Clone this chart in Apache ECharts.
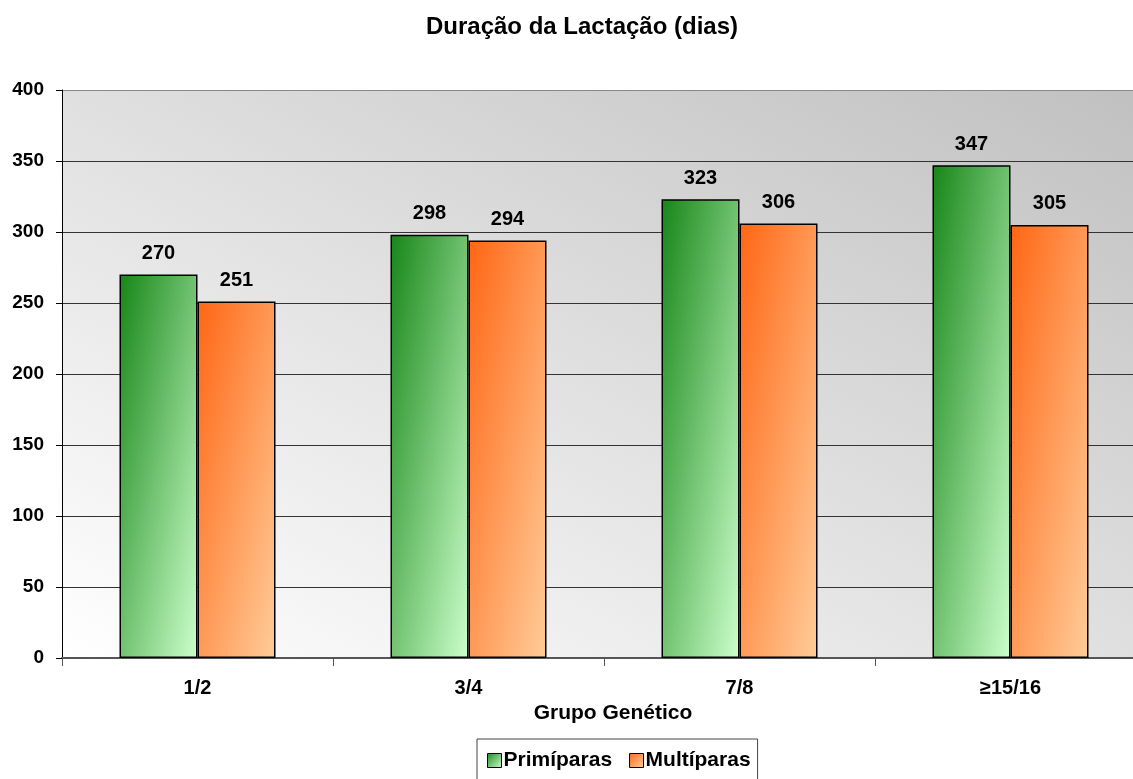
<!DOCTYPE html>
<html>
<head>
<meta charset="utf-8">
<title>Duração da Lactação</title>
<script src="https://cdn.jsdelivr.net/npm/echarts@6/dist/echarts.min.js"></script>
<style>
  html, body { margin: 0; padding: 0; background: #fff; }
  #chart { width: 1133px; height: 779px; }
</style>
</head>
<body>
<div id="chart"></div>
<script>
// Lactation length (days) by genetic group
const categories = ['1/2', '3/4', '7/8', '≥15/16'];
const primiparas = [270, 298, 323, 347];
const multiparas = [251, 294, 306, 305];
const yTicks = [0, 50, 100, 150, 200, 250, 300, 350, 400];

const FONT = 'Arial, "Liberation Sans", sans-serif';
const GRID = { left: 62, top: 90, width: 1084, height: 568 };
const BAR_W = 78;

// Diagonal shading whose bands run corner to corner, for a box of w x h pixels
function diagGradient(w, h, c0, c1, fromBottom) {
  const d = h * h + w * w;
  const gx = 2 * h * h / d, gy = 2 * w * w / d;
  return fromBottom
    ? { type: 'linear', x: 0, y: 1, x2: gx, y2: 1 - gy,
        colorStops: [{ offset: 0, color: c0 }, { offset: 1, color: c1 }] }
    : { type: 'linear', x: 0, y: 0, x2: gx, y2: gy,
        colorStops: [{ offset: 0, color: c0 }, { offset: 1, color: c1 }] };
}

function barColor(c0, c1) {
  return function (p) {
    const h = Math.max(1, p.value / yTicks[yTicks.length - 1] * GRID.height);
    return diagGradient(BAR_W, h, c0, c1, false);
  };
}

const labelStyle = {
  show: true, position: 'top', distance: 11,
  color: '#000', fontFamily: FONT, fontWeight: 'bold', fontSize: 20
};

const chart = echarts.init(document.getElementById('chart'), null, { renderer: 'canvas' });
chart.setOption({
  animation: false,
  backgroundColor: '#fff',
  title: {
    text: 'Duração da Lactação (dias)',
    left: 577, top: 10, textAlign: 'center',
    textStyle: { fontFamily: FONT, fontWeight: 'bold', fontSize: 24, color: '#000' }
  },
  grid: {
    left: GRID.left, top: GRID.top, width: GRID.width, height: GRID.height,
    outerBoundsMode: 'none',
    show: true, borderWidth: 0,
    backgroundColor: diagGradient(GRID.width, GRID.height, '#ffffff', '#c0c0c0', true)
  },
  legend: {
    top: 739, left: 477,
    padding: [11, 7, 20, 10],
    borderColor: '#444', borderWidth: 1,
    itemWidth: 14, itemHeight: 14, itemGap: 17,
    icon: 'rect',
    textStyle: { fontFamily: FONT, fontWeight: 'bold', fontSize: 21, color: '#000', padding: [0, 0, 0, -3] },
    data: [
      { name: 'Primíparas', itemStyle: { color: { type: 'linear', x: 0, y: 0, x2: 1, y2: 1,
        colorStops: [{ offset: 0, color: '#1f8a1f' }, { offset: 1, color: '#ccffcc' }] }, borderColor: '#000', borderWidth: 1 } },
      { name: 'Multíparas', itemStyle: { color: { type: 'linear', x: 0, y: 0, x2: 1, y2: 1,
        colorStops: [{ offset: 0, color: '#ff6a1a' }, { offset: 1, color: '#ffcc99' }] }, borderColor: '#000', borderWidth: 1 } }
    ]
  },
  xAxis: {
    type: 'category',
    data: categories,
    name: 'Grupo Genético',
    nameLocation: 'middle',
    nameGap: 44,
    nameTextStyle: { fontFamily: FONT, fontWeight: 'bold', fontSize: 21, color: '#000', padding: [0, 0, 0, 18] },
    axisLine: { lineStyle: { color: '#555', width: 2 } },
    axisTick: { show: true, length: 8, lineStyle: { color: '#555', width: 1 } },
    axisLabel: { margin: 20, fontFamily: FONT, fontWeight: 'bold', fontSize: 20, color: '#000' },
    splitLine: { show: false }
  },
  yAxis: {
    type: 'value',
    min: yTicks[0], max: yTicks[yTicks.length - 1], interval: yTicks[1] - yTicks[0],
    axisLine: { show: true, lineStyle: { color: '#000', width: 1 } },
    axisTick: { show: true, length: 6, lineStyle: { color: '#000' } },
    axisLabel: { margin: 18, fontFamily: FONT, fontWeight: 'bold', fontSize: 19, color: '#000' },
    splitLine: { show: true, lineStyle: {
      color: ['#333', '#333', '#333', '#333', '#333', '#333', '#333', '#333', '#888'], width: 1 } }
  },
  series: [
    {
      name: 'Primíparas', type: 'bar', data: primiparas,
      barWidth: BAR_W, barGap: '0%',
      itemStyle: { color: barColor('#178617', '#ccffcc'), borderColor: '#000', borderWidth: 1.5 },
      label: labelStyle
    },
    {
      name: 'Multíparas', type: 'bar', data: multiparas,
      barWidth: BAR_W, barGap: '0%',
      itemStyle: { color: barColor('#ff6614', '#ffcc99'), borderColor: '#000', borderWidth: 1.5 },
      label: labelStyle
    }
  ]
});
</script>
</body>
</html>
